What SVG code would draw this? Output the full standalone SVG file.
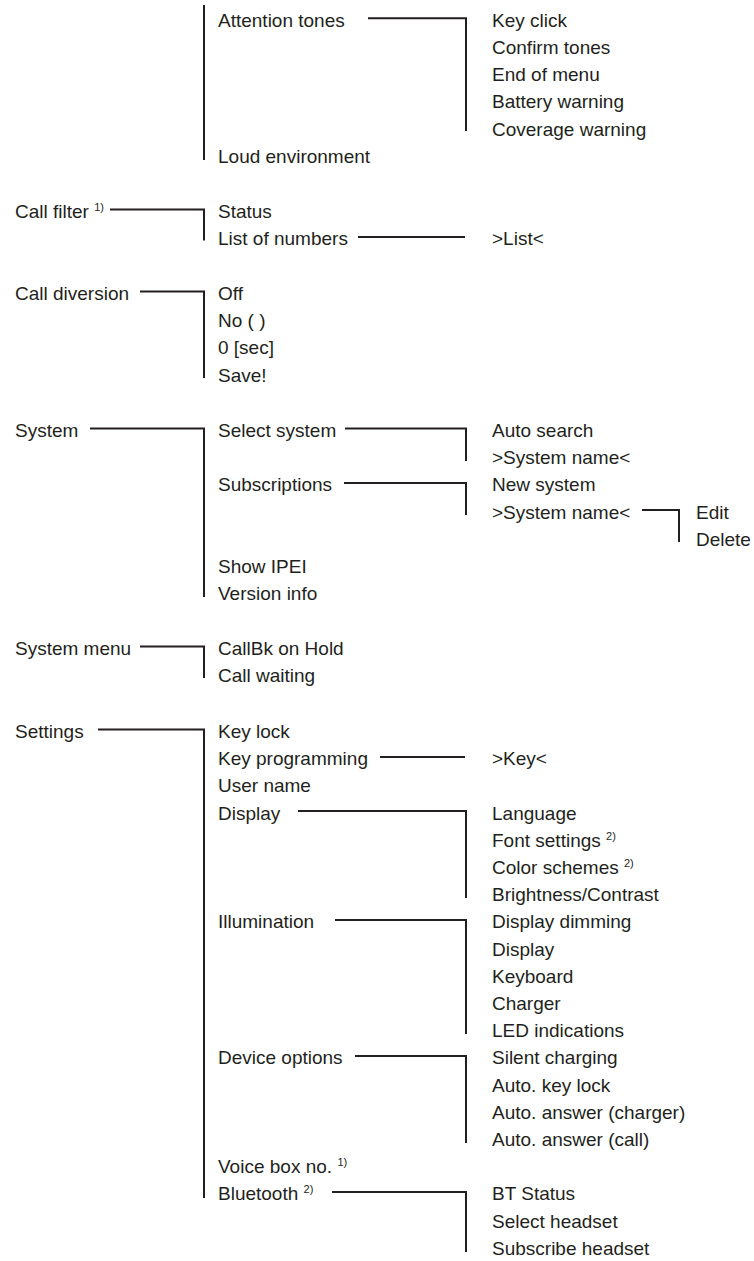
<svg xmlns="http://www.w3.org/2000/svg" width="754" height="1261" viewBox="0 0 754 1261">
<style>
text{font-family:"Liberation Sans",Arial,sans-serif;font-size:19px;fill:#231f20}
.sup{font-size:11px}
#connectors path{fill:none;stroke:#231f20;stroke-width:2}
</style>
<rect width="754" height="1261" fill="#fff"/>
<g id="connectors">
<path d="M204,5 V160"/>
<path d="M368,18.2 H466 V131"/>
<path d="M110,209.5 H204 V240.5"/>
<path d="M358,237 H465"/>
<path d="M140,291.5 H204 V378"/>
<path d="M90,428.5 H204 V597"/>
<path d="M345,428.5 H466 V461"/>
<path d="M344,483 H466 V515"/>
<path d="M642,510 H679 V542"/>
<path d="M140,646.5 H204 V678"/>
<path d="M98,729.5 H204 V1198"/>
<path d="M380,757 H465"/>
<path d="M298,811 H466 V898"/>
<path d="M335,920 H466 V1034"/>
<path d="M355,1056 H466 V1143"/>
<path d="M332,1192 H466 V1252"/>
</g>
<g id="attention-tones"><text x="218" y="26.7">Attention tones</text></g>
<g id="key-click"><text x="492" y="26.7">Key click</text></g>
<g id="confirm-tones"><text x="492" y="53.9">Confirm tones</text></g>
<g id="end-of-menu"><text x="492" y="81.1">End of menu</text></g>
<g id="battery-warning"><text x="492" y="108.3">Battery warning</text></g>
<g id="coverage-warning"><text x="492" y="135.5">Coverage warning</text></g>
<g id="loud-environment"><text x="218" y="162.7">Loud environment</text></g>

<g id="call-filter"><text x="15" y="218">Call filter <tspan class="sup" dy="-7">1)</tspan></text></g>
<g id="status"><text x="218" y="218">Status</text></g>
<g id="list-of-numbers"><text x="218" y="245.2">List of numbers</text></g>
<g id="list"><text x="492" y="245.2">&gt;List&lt;</text></g>

<g id="call-diversion"><text x="15" y="300">Call diversion</text></g>
<g id="off"><text x="218" y="300">Off</text></g>
<g id="no"><text x="218" y="327.2">No ( )</text></g>
<g id="sec"><text x="218" y="354.4">0 [sec]</text></g>
<g id="save"><text x="218" y="381.6">Save!</text></g>

<g id="system"><text x="15" y="437">System</text></g>
<g id="select-system"><text x="218" y="437">Select system</text></g>
<g id="auto-search"><text x="492" y="437">Auto search</text></g>
<g id="system-name-1"><text x="492" y="464.2">&gt;System name&lt;</text></g>
<g id="subscriptions"><text x="218" y="491.4">Subscriptions</text></g>
<g id="new-system"><text x="492" y="491.4">New system</text></g>
<g id="system-name-2"><text x="492" y="518.6">&gt;System name&lt;</text></g>
<g id="edit"><text x="696" y="518.6">Edit</text></g>
<g id="delete"><text x="696" y="545.8">Delete</text></g>
<g id="show-ipei"><text x="218" y="573">Show IPEI</text></g>
<g id="version-info"><text x="218" y="600.2">Version info</text></g>

<g id="system-menu"><text x="15" y="655">System menu</text></g>
<g id="callbk-on-hold"><text x="218" y="655">CallBk on Hold</text></g>
<g id="call-waiting"><text x="218" y="682.2">Call waiting</text></g>

<g id="settings"><text x="15" y="738">Settings</text></g>
<g id="key-lock"><text x="218" y="738">Key lock</text></g>
<g id="key-programming"><text x="218" y="765.2">Key programming</text></g>
<g id="key"><text x="492" y="765.2">&gt;Key&lt;</text></g>
<g id="user-name"><text x="218" y="792.4">User name</text></g>
<g id="display"><text x="218" y="819.6">Display</text></g>
<g id="language"><text x="492" y="819.6">Language</text></g>
<g id="font-settings"><text x="492" y="846.8">Font settings <tspan class="sup" dy="-7">2)</tspan></text></g>
<g id="color-schemes"><text x="492" y="874">Color schemes <tspan class="sup" dy="-7">2)</tspan></text></g>
<g id="brightness-contrast"><text x="492" y="901.2">Brightness/Contrast</text></g>
<g id="illumination"><text x="218" y="928.4">Illumination</text></g>
<g id="display-dimming"><text x="492" y="928.4">Display dimming</text></g>
<g id="display-2"><text x="492" y="955.6">Display</text></g>
<g id="keyboard"><text x="492" y="982.8">Keyboard</text></g>
<g id="charger"><text x="492" y="1010">Charger</text></g>
<g id="led-indications"><text x="492" y="1037.2">LED indications</text></g>
<g id="device-options"><text x="218" y="1064.4">Device options</text></g>
<g id="silent-charging"><text x="492" y="1064.4">Silent charging</text></g>
<g id="auto-key-lock"><text x="492" y="1091.6">Auto. key lock</text></g>
<g id="auto-answer-charger"><text x="492" y="1118.8">Auto. answer (charger)</text></g>
<g id="auto-answer-call"><text x="492" y="1146">Auto. answer (call)</text></g>
<g id="voice-box-no"><text x="218" y="1173.2">Voice box no. <tspan class="sup" dy="-7">1)</tspan></text></g>
<g id="bluetooth"><text x="218" y="1200.4">Bluetooth <tspan class="sup" dy="-7">2)</tspan></text></g>
<g id="bt-status"><text x="492" y="1200.4">BT Status</text></g>
<g id="select-headset"><text x="492" y="1227.6">Select headset</text></g>
<g id="subscribe-headset"><text x="492" y="1254.8">Subscribe headset</text></g>
</svg>
